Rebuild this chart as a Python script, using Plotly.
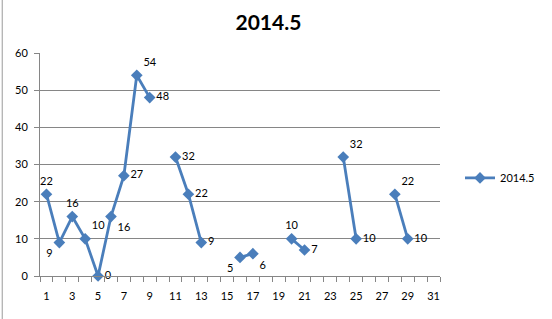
import plotly.graph_objects as go

days = list(range(1, 32))
values = [22, 9, 16, 10, 0, 16, 27, 54, 48, None, 32, 22, 9, None, None, 5, 6, None, None, 10, 7,
          None, None, 32, 10, None, None, 22, 10, None, None]
series_name = "2014.5"
title_text = "2014.5"
x_tick_vals = list(range(1, 32, 2))
x_boundaries = [d - 0.5 for d in days] + [31.5]
y_tick_vals = [0, 10, 20, 30, 40, 50, 60]

label_pos = {
    1: "top center", 2: "bottom left", 3: "top center", 4: "top right", 5: "middle right",
    6: "bottom right", 7: "middle right", 8: "top right", 9: "middle right", 11: "middle right",
    12: "middle right", 13: "middle right", 16: "bottom left", 17: "bottom right", 20: "top center",
    21: "middle right", 24: "top right", 25: "middle right", 28: "top right", 29: "middle right",
}
texts = ["" if v is None else str(v) for v in values]
positions = [label_pos.get(d, "middle right") for d in days]

color = "#4A7EBB"
grid = "#868686"
font = "Lato"

fig = go.Figure()
fig.add_trace(go.Scatter(
    x=days, y=values, mode="lines+markers+text", name=series_name,
    line=dict(color=color, width=2.8),
    marker=dict(symbol="diamond", size=9, color=color),
    text=texts, textposition=positions,
    textfont=dict(family=font, size=11, color="#000000"),
    connectgaps=False, cliponaxis=False,
))
# invisible trace on overlay axis to carry the odd-day labels
fig.add_trace(go.Scatter(x=[1, 31], y=[0, 0], xaxis="x2", mode="markers",
                         marker=dict(opacity=0), showlegend=False, hoverinfo="skip"))

fig.update_layout(
    width=552, height=319,
    margin=dict(l=40, r=99, t=53, b=43),
    paper_bgcolor="white", plot_bgcolor="white",
    font=dict(family=font, size=11, color="#000000"),
    title=dict(text="<b>" + title_text + "</b>", x=0.571, xref="paper", xanchor="center",
               y=1 - 22.5 / 319, yanchor="middle", font=dict(family=font, size=21, color="#000000")),
    showlegend=True,
    legend=dict(x=1.05, y=0.44, xanchor="left", yanchor="middle", font=dict(family=font, size=11),
                bgcolor="rgba(0,0,0,0)", itemwidth=30),
    xaxis=dict(range=[0.5, 31.5], tickvals=x_boundaries, ticktext=["" for _ in x_boundaries],
               ticks="outside", ticklen=5, tickcolor=grid, showgrid=False, showline=True,
               linecolor=grid, linewidth=1, zeroline=False),
    xaxis2=dict(range=[0.5, 31.5], overlaying="x", side="bottom", anchor="y",
                tickvals=x_tick_vals, ticktext=[str(v) for v in x_tick_vals],
                ticks="", showgrid=False, showline=False, zeroline=False, ticklabelstandoff=12),
    yaxis=dict(range=[0, 60], tickvals=y_tick_vals, showgrid=True, gridcolor=grid, gridwidth=1,
               showline=True, linecolor=grid, linewidth=1, ticks="outside", ticklen=5,
               tickcolor=grid, zeroline=False, ticklabelstandoff=4),
)

fig.add_shape(type="line", xref="paper", yref="paper", x0=-39 / 413, x1=-39 / 413, y0=-0.3, y1=1.4,
              line=dict(color="#9a9a9a", width=1))

fig.write_html("out.html")
